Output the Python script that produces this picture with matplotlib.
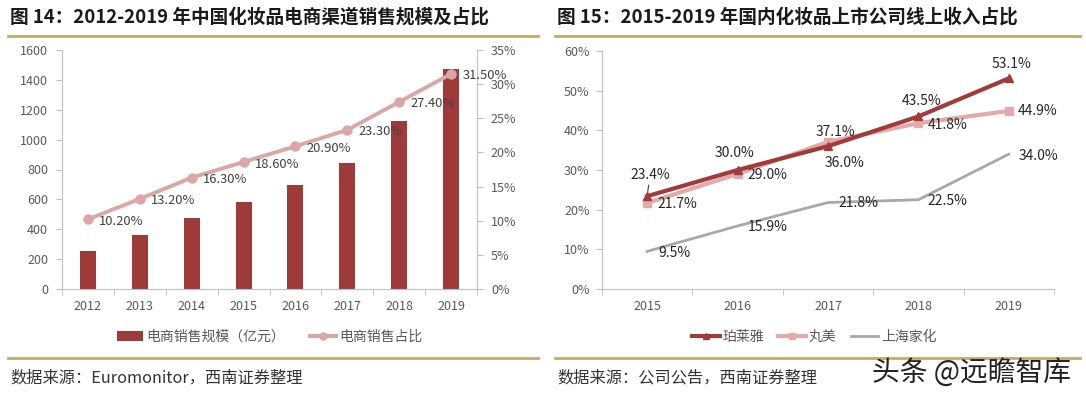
import matplotlib
matplotlib.use("Agg")
import matplotlib.pyplot as plt
from matplotlib.lines import Line2D
from matplotlib.patches import Patch
import numpy as np

plt.rcParams['font.family'] = ['Noto Sans CJK SC', 'DejaVu Sans']

# ---------- data ----------
years_l = ['2012', '2013', '2014', '2015', '2016', '2017', '2018', '2019']
sales = [256, 363, 477, 584, 696, 841, 1122, 1470]
share = [10.2, 13.2, 16.3, 18.6, 20.9, 23.3, 27.4, 31.5]
share_labels = ['10.20%', '13.20%', '16.30%', '18.60%', '20.90%', '23.30%', '27.40%', '31.50%']

years_r = ['2015', '2016', '2017', '2018', '2019']
ply = [23.4, 30.0, 36.0, 43.5, 53.1]
wm = [21.7, 29.0, 37.1, 41.8, 44.9]
jahwa = [9.5, 15.9, 21.8, 22.5, 34.0]

left_title = '图 14：2012-2019 年中国化妆品电商渠道销售规模及占比'
right_title = '图 15：2015-2019 年国内化妆品上市公司线上收入占比'
left_src = '数据来源：Euromonitor，西南证券整理'
right_src = '数据来源：公司公告，西南证券整理'

BAR = '#9E3A3A'
PINK = '#DBA6A6'
DARK = '#A33A3A'
MPINK = '#E3AAAA'
GRAY = '#A8A8A8'
GOLD = '#C8A86A'
TICK = '#595959'
SPINE = '#BFBFBF'

W, H = 1086, 399
fig = plt.figure(figsize=(W/100, H/100), dpi=100)

# ---------- decoration ----------
fig.text(10/W, 1-17/H, left_title, fontsize=13.4, fontweight='bold', va='center', ha='left', color='#1a1a1a')
fig.text(557/W, 1-17/H, right_title, fontsize=13.4, fontweight='bold', va='center', ha='left', color='#1a1a1a')
for x0, x1 in [(8, 538), (555, 1080)]:
    fig.add_artist(Line2D([x0/W, x1/W], [1-36/H]*2, color=GOLD, lw=2))
    fig.add_artist(Line2D([x0/W, x1/W], [1-358/H]*2, color=GOLD, lw=2))
fig.text(10/W, 1-378/H, left_src, fontsize=11.7, style='italic', va='center', ha='left', color='#333333')
fig.text(557/W, 1-378/H, right_src, fontsize=11.7, style='italic', va='center', ha='left', color='#333333')
fig.text(1071/W, 1-373/H, '头条 @远瞻智库', fontsize=20, va='center', ha='right', color='#222222')

# ---------- left chart ----------
ax = fig.add_axes([62/W, 1-289/H, 415/W, 239/H])
x = np.arange(len(years_l))
ax.bar(x, sales, width=0.31, color=BAR, zorder=2)
ax.set_xlim(-0.5, len(years_l)-0.5)
ax.set_ylim(0, 1600)
ax.set_yticks(range(0, 1601, 200))
ax.set_xticks(x)
ax.set_xticklabels(years_l)
ax.set_xticks(np.arange(-0.5, len(years_l), 1), minor=True)
ax.tick_params(axis='x', which='major', length=0, pad=8, labelsize=9, labelcolor=TICK)
ax.tick_params(axis='x', which='minor', length=4, color=SPINE)
ax.tick_params(axis='y', length=4, color=SPINE, labelsize=9, labelcolor=TICK, pad=6)
for s in ['top', 'right']:
    ax.spines[s].set_visible(False)
for s in ['left', 'bottom']:
    ax.spines[s].set_color(SPINE)

ax2 = ax.twinx()
ax2.plot(x, share, color=PINK, lw=2.8, marker='o', ms=6.5, zorder=3)
ax2.set_ylim(0, 35)
ax2.set_yticks(range(0, 36, 5))
ax2.set_yticklabels([f'{v}%' for v in range(0, 36, 5)])
ax2.tick_params(axis='y', length=4, color=SPINE, labelsize=9, labelcolor=TICK, pad=6)
for s in ['top', 'left', 'bottom']:
    ax2.spines[s].set_visible(False)
ax2.spines['right'].set_color(SPINE)
for xi, v, lab in zip(x, share, share_labels):
    ax2.annotate(lab, (xi, v), xytext=(8, -1.5), textcoords='offset points',
                 fontsize=9.3, color='#404040', va='center', ha='left')

handles = [Patch(facecolor=BAR), Line2D([], [], color=PINK, lw=3, marker='o', ms=5)]
ax.legend(handles, ['电商销售规模（亿元）', '电商销售占比'], loc='center',
          bbox_to_anchor=(0.5, -0.2), ncol=2, frameon=False, fontsize=10,
          handlelength=1.9, handletextpad=0.2, columnspacing=1.8, labelcolor='#595959')

# ---------- right chart ----------
bx = fig.add_axes([602/W, 1-289/H, 452/W, 238/H])
xr = np.arange(len(years_r))
bx.plot(xr, jahwa, color=GRAY, lw=2, zorder=2, label='上海家化')
bx.plot(xr, wm, color=MPINK, lw=3, marker='s', ms=5.5, zorder=3, label='丸美')
bx.plot(xr, ply, color=DARK, lw=3, marker='^', ms=5.5, zorder=4, label='珀莱雅')
bx.set_xlim(-0.5, len(years_r)-0.5)
bx.set_ylim(0, 60)
bx.set_yticks(range(0, 61, 10))
bx.set_yticklabels([f'{v}%' for v in range(0, 61, 10)])
bx.set_xticks(xr)
bx.set_xticklabels(years_r)
bx.set_xticks(np.arange(-0.5, len(years_r), 1), minor=True)
bx.tick_params(axis='x', which='major', length=0, pad=8, labelsize=9, labelcolor=TICK)
bx.tick_params(axis='x', which='minor', length=4, color=SPINE)
bx.tick_params(axis='y', length=4, color=SPINE, labelsize=9, labelcolor=TICK, pad=5)
for s in ['top', 'right']:
    bx.spines[s].set_visible(False)
for s in ['left', 'bottom']:
    bx.spines[s].set_color(SPINE)

LC = '#262626'
fs = 10
# 珀莱雅 labels
bx.annotate(f'{ply[0]:.1f}%', (xr[0], ply[0]), xytext=(2, 15.5), textcoords='offset points',
            fontsize=fs, color=LC, ha='center', va='center',
            arrowprops=dict(arrowstyle='-', color='#404040', lw=0.8, shrinkA=0.5, shrinkB=2.5))
for i, (dx, dy) in zip(range(1, 5), [(-2.5, 12), (12, -12), (2, 11), (2, 10)]):
    bx.annotate(f'{ply[i]:.1f}%', (xr[i], ply[i]), xytext=(dx, dy), textcoords='offset points',
                fontsize=fs, color=LC, ha='center', va='center')
# 丸美 labels
for i, (dx, dy) in zip(range(5), [(22, -1), (21.5, -1), (5, 7), (21, -1), (21, 0)]):
    bx.annotate(f'{wm[i]:.1f}%', (xr[i], wm[i]), xytext=(dx, dy), textcoords='offset points',
                fontsize=fs, color=LC, ha='center', va='center')
# 上海家化 labels
for i, (dx, dy) in zip(range(5), [(19.5, -1), (21.5, -1), (22, 0), (21, -1), (21, -1)]):
    bx.annotate(f'{jahwa[i]:.1f}%', (xr[i], jahwa[i]), xytext=(dx, dy), textcoords='offset points',
                fontsize=fs, color=LC, ha='center', va='center')

h = [Line2D([], [], color=DARK, lw=3, marker='^', ms=5),
     Line2D([], [], color=MPINK, lw=3, marker='s', ms=5),
     Line2D([], [], color=GRAY, lw=2)]
bx.legend(h, ['珀莱雅', '丸美', '上海家化'], loc='center', bbox_to_anchor=(0.47, -0.2),
          ncol=3, frameon=False, fontsize=10, handlelength=2.0, handletextpad=0.2,
          columnspacing=1.0, labelcolor='#595959')

fig.savefig('out.png', dpi=100)
